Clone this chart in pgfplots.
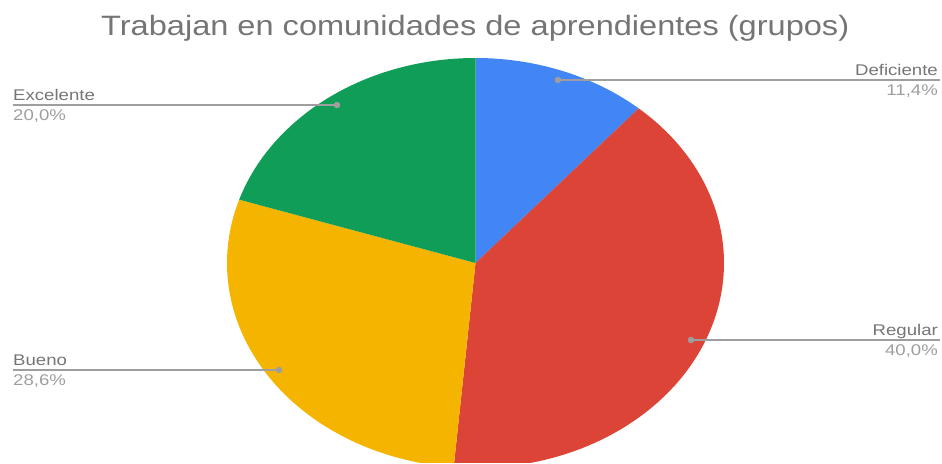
\documentclass[border=0pt]{standalone}
\usepackage{pgfplots}
\pgfplotsset{compat=1.18}
\usepackage{fontspec}
\setmainfont{Liberation Sans}
\definecolor{cBlue}{HTML}{4285F4}
\definecolor{cRed}{HTML}{DB4437}
\definecolor{cYellow}{HTML}{F4B400}
\definecolor{cGreen}{HTML}{0F9D58}
\definecolor{cTitle}{HTML}{757575}
\definecolor{cName}{HTML}{757575}
\definecolor{cPct}{HTML}{9E9E9E}
\definecolor{cLine}{HTML}{9E9E9E}
% data (percent)
\def\vA{11.4}\def\vB{40.0}\def\vC{28.6}\def\vD{20.0}
\def\cx{475.5}\def\cy{200}\def\rx{248.5}\def\ry{205}
\pgfmathsetmacro\aA{90}
\pgfmathsetmacro\aB{\aA-3.6*\vA}
\pgfmathsetmacro\aC{\aB-3.6*\vB}
\pgfmathsetmacro\aD{\aC-3.6*\vC}
\pgfmathsetmacro\aE{\aD-3.6*\vD}
\newcommand\lab[1]{\scalebox{1.2}[1]{#1}}
\begin{document}
\begin{tikzpicture}
\begin{axis}[width=942pt,height=463pt,scale only axis,
  xmin=0,xmax=942,ymin=0,ymax=463,hide axis,clip=true]
\addplot[draw=none,fill=cBlue,domain=\aB:\aA,samples=60] ({\cx+\rx*cos(x)},{\cy+\ry*sin(x)}) -- (axis cs:\cx,\cy) -- cycle;
\addplot[draw=none,fill=cRed,domain=\aC:\aB,samples=120] ({\cx+\rx*cos(x)},{\cy+\ry*sin(x)}) -- (axis cs:\cx,\cy) -- cycle;
\addplot[draw=none,fill=cYellow,domain=\aD:\aC,samples=100] ({\cx+\rx*cos(x)},{\cy+\ry*sin(x)}) -- (axis cs:\cx,\cy) -- cycle;
\addplot[draw=none,fill=cGreen,domain=\aE:\aD,samples=80] ({\cx+\rx*cos(x)},{\cy+\ry*sin(x)}) -- (axis cs:\cx,\cy) -- cycle;
% leader lines
\addplot[cLine,line width=1.4pt] coordinates {(558,383) (940,383)};
\addplot[cLine,line width=1.4pt] coordinates {(691,123) (940,123)};
\addplot[cLine,line width=1.4pt] coordinates {(13,358) (337,358)};
\addplot[cLine,line width=1.4pt] coordinates {(13,93) (279,93)};
\addplot[only marks,mark=*,mark size=3pt,color=cLine] coordinates {(558,383) (691,123) (337,358) (279,93)};
% labels
\node[anchor=base east,text=cName,font=\fontsize{15.5}{18}\selectfont,inner sep=0pt] at (axis cs:938,387) {\lab{Deficiente}};
\node[anchor=base east,text=cPct,font=\fontsize{15.5}{18}\selectfont,inner sep=0pt] at (axis cs:938,367) {\lab{11,4\%}};
\node[anchor=base east,text=cName,font=\fontsize{15.5}{18}\selectfont,inner sep=0pt] at (axis cs:938,127) {\lab{Regular}};
\node[anchor=base east,text=cPct,font=\fontsize{15.5}{18}\selectfont,inner sep=0pt] at (axis cs:938,107) {\lab{40,0\%}};
\node[anchor=base west,text=cName,font=\fontsize{15.5}{18}\selectfont,inner sep=0pt] at (axis cs:13,362) {\lab{Excelente}};
\node[anchor=base west,text=cPct,font=\fontsize{15.5}{18}\selectfont,inner sep=0pt] at (axis cs:13,342) {\lab{20,0\%}};
\node[anchor=base west,text=cName,font=\fontsize{15.5}{18}\selectfont,inner sep=0pt] at (axis cs:13,97) {\lab{Bueno}};
\node[anchor=base west,text=cPct,font=\fontsize{15.5}{18}\selectfont,inner sep=0pt] at (axis cs:13,77) {\lab{28,6\%}};
% title
\node[anchor=base west,text=cTitle,font=\fontsize{28}{32}\selectfont,inner sep=0pt] at (axis cs:101,427) {\resizebox{748pt}{\height}{Trabajan en comunidades de aprendientes (grupos)}};
\end{axis}
\pgfresetboundingbox
\path[use as bounding box] (current axis.south west) rectangle (current axis.north east);
\end{tikzpicture}
\end{document}
